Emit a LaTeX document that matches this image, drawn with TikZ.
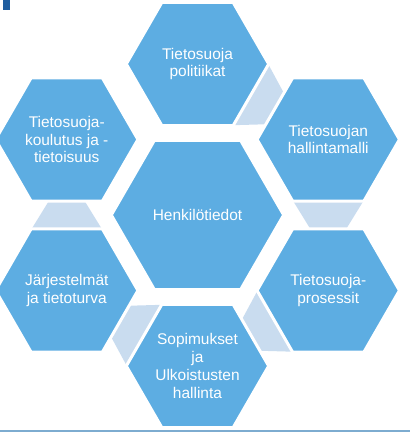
\documentclass[tikz,border=0pt]{standalone}
\usepackage{fontspec}
\setmainfont{Liberation Sans}
\usetikzlibrary{shapes.geometric,calc,backgrounds}

\definecolor{hexblue}{RGB}{93,173,226}
\definecolor{linkblue}{RGB}{201,220,239}
\definecolor{markblue}{RGB}{31,94,160}
\definecolor{ruleblue}{RGB}{125,172,208}

% light trapezoid between two neighbouring cells, wide end at the first one
\newcommand\flowlink[2]{%
  \fill[linkblue] ($(#1)!0.414!(#2)!25.9pt!90:(#2)$) -- ($(#1)!0.414!(#2)!25.9pt!-90:(#2)$)
    -- ($(#1)!0.586!(#2)!13.9pt!-90:(#2)$) -- ($(#1)!0.586!(#2)!13.9pt!90:(#2)$) -- cycle;}

\begin{document}
\begin{tikzpicture}[x=0.75pt,y=0.75pt,
    hexcell/.style={regular polygon,regular polygon sides=6,fill=hexblue,draw=white,
      line width=2.25pt,inner sep=0pt,minimum size=106.8pt,text=white,align=center,
      font=\fontsize{11.6pt}{13.3pt}\selectfont},
    hubcell/.style={hexcell,minimum size=129.3pt}]

      \useasboundingbox (0,0) rectangle (410,433);

      \fill[markblue] (3,423) rectangle (10,433);
      \draw[ruleblue,line width=1.2pt] (0,2) -- (410,2);

      \node[hubcell] (hub) at (197.5,218) {Henkilötiedot};

      \node[hexcell] (policy) at ($(hub)+(90:151)$) {Tietosuoja\\politiikat};
      \node[hexcell] (model) at ($(hub)+(30:151)$) {Tietosuojan\\hallintamalli};
      \node[hexcell] (process) at ($(hub)+(-30:151)$) {Tietosuoja-\\prosessit};
      \node[hexcell] (contract) at ($(hub)+(-90:151)$) {Sopimukset\\ja\\Ulkoistusten\\hallinta};
      \node[hexcell] (systems) at ($(hub)+(-150:151)$) {Järjestelmät\\ja tietoturva};
      \node[hexcell] (training) at ($(hub)+(150:151)$) {Tietosuoja-\\koulutus ja -\\tietoisuus};

      \begin{scope}[on background layer]
      \flowlink{policy}{model}
      \flowlink{model}{process}
      \flowlink{process}{contract}
      \flowlink{contract}{systems}
      \flowlink{systems}{training}
      \end{scope}

    \end{tikzpicture}
\end{document}
